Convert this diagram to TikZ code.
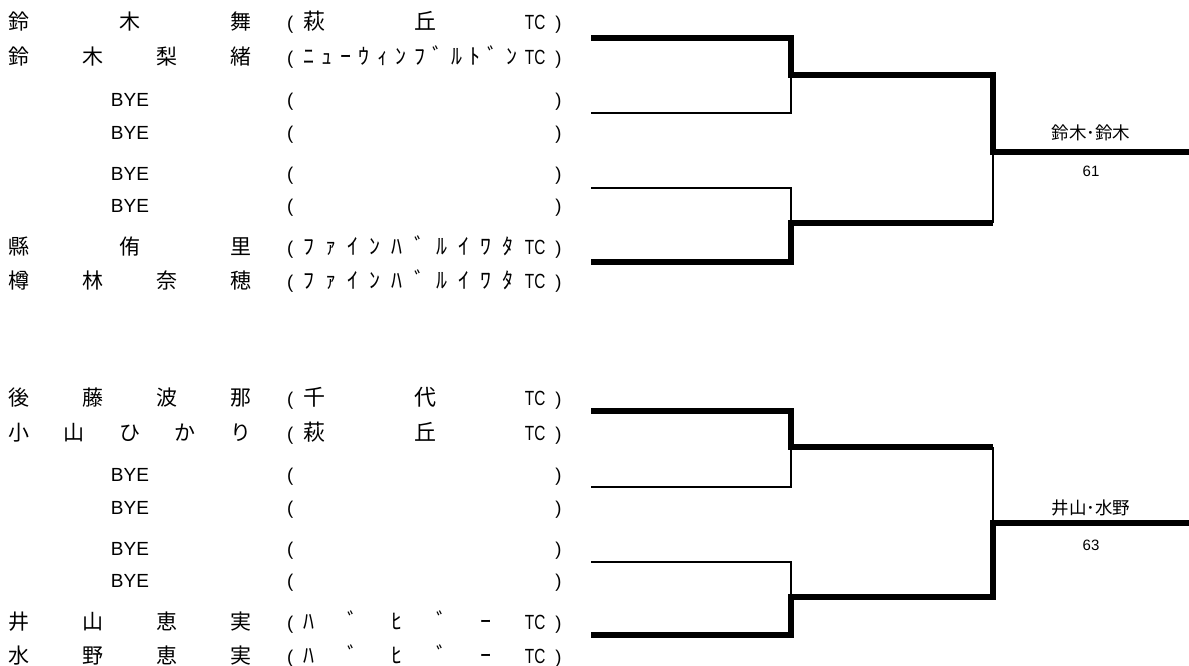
\documentclass[tikz,border=0pt]{standalone}
\usepackage{fontspec}
\usepackage{graphicx}
\setmainfont{Liberation Sans}
\newfontfamily\jp{Noto Sans CJK JP}
\usetikzlibrary{positioning}
\newcommand{\nm}[1]{\makebox[243pt][s]{#1}}
\newcommand{\tc}{{\rmfamily\fontsize{20.5}{20.5}\selectfont\scalebox{0.75}[1]{TC}}}
\newcommand{\club}[1]{(\kern10pt{\jp\fontsize{22}{22}\selectfont\makebox[242pt][s]{#1}}\kern10pt)}

\begin{document}
\begin{tikzpicture}
[x=1pt,y=-1pt,
player/.style={anchor=base west,inner sep=0pt,font=\jp\fontsize{21}{21}\selectfont},
bye/.style={anchor=base,inner sep=0pt,font=\fontsize{19}{19}\selectfont},
club/.style={anchor=base west,inner sep=0pt,font=\fontsize{18.5}{18.5}\selectfont},
pair/.style={anchor=base,inner sep=0pt,font=\jp\fontsize{17.5}{17.5}\selectfont},
score/.style={anchor=base,inner sep=0pt,font=\fontsize{15}{15}\selectfont},
win/.style={line width=5.5pt},
lose/.style={line width=2.6pt}]
\useasboundingbox (0,0) rectangle (1189,666);
% upper draw
\node at (8,30) [player] (p1) {\nm{鈴\hfill 木\hfill 舞}};
\node at (287,30) [club] (c1) {\club{萩\hfill 丘\hfill\tc}};
\node at (8,65) [player] (p2) {\nm{鈴\hfill 木\hfill 梨\hfill 緒}};
\node at (287,65) [club] (c2) {\club{ﾆ\hfill ｭ\hfill ｰ\hfill ｳ\hfill ｨ\hfill ﾝ\hfill ﾌ\hfill ﾞ\hfill ﾙ\hfill ﾄ\hfill ﾞ\hfill ﾝ\hfill\tc}};
\node at (130,106.5) [bye] (p3) {BYE};
\node at (287,106.5) [club] (c3) {\club{\hfill}};
\node at (130,139.5) [bye] (p4) {BYE};
\node at (287,139.5) [club] (c4) {\club{\hfill}};
\node at (130,180.5) [bye] (p5) {BYE};
\node at (287,180.5) [club] (c5) {\club{\hfill}};
\node at (130,212.5) [bye] (p6) {BYE};
\node at (287,212.5) [club] (c6) {\club{\hfill}};
\node at (8,254) [player] (p7) {\nm{縣\hfill 侑\hfill 里}};
\node at (287,254) [club] (c7) {\club{ﾌ\hfill ｧ\hfill ｲ\hfill ﾝ\hfill ﾊ\hfill ﾞ\hfill ﾙ\hfill ｲ\hfill ﾜ\hfill ﾀ\hfill\tc}};
\node at (8,288) [player] (p8) {\nm{樽\hfill 林\hfill 奈\hfill 穂}};
\node at (287,288) [club] (c8) {\club{ﾌ\hfill ｧ\hfill ｲ\hfill ﾝ\hfill ﾊ\hfill ﾞ\hfill ﾙ\hfill ｲ\hfill ﾜ\hfill ﾀ\hfill\tc}};
\coordinate (a1) at (591,38);
\coordinate (a2) at (591,113);
\coordinate (a3) at (591,188);
\coordinate (a4) at (591,262);
\coordinate (b1) at (791,75);
\coordinate (b2) at (791,223);
\coordinate (f1) at (993,152);
\coordinate (e1) at (1189,152);
\draw [win] (a1) -| (b1) -- (b1-|f1) -- (f1) -- (e1);
\draw [lose] (a2) -| (b1);
\draw [lose] (a3) -| (b2);
\draw [win] (a4) -| (b2) -- (b2-|f1);
\draw [lose] (b2-|f1) -- (f1);
\node at (1091,140) [pair] (w1) {鈴木･鈴木};
\node at (1091,176) [score] (s1) {61};
% lower draw
\node at (8,405) [player] (p9) {\nm{後\hfill 藤\hfill 波\hfill 那}};
\node at (287,405) [club] (c9) {\club{千\hfill 代\hfill\tc}};
\node at (8,440) [player] (p10) {\nm{小\hfill 山\hfill ひ\hfill か\hfill り}};
\node at (287,440) [club] (c10) {\club{萩\hfill 丘\hfill\tc}};
\node at (130,481.5) [bye] (p11) {BYE};
\node at (287,481.5) [club] (c11) {\club{\hfill}};
\node at (130,514.5) [bye] (p12) {BYE};
\node at (287,514.5) [club] (c12) {\club{\hfill}};
\node at (130,555.5) [bye] (p13) {BYE};
\node at (287,555.5) [club] (c13) {\club{\hfill}};
\node at (130,587.5) [bye] (p14) {BYE};
\node at (287,587.5) [club] (c14) {\club{\hfill}};
\node at (8,629) [player] (p15) {\nm{井\hfill 山\hfill 恵\hfill 実}};
\node at (287,629) [club] (c15) {\club{ﾊ\hfill ﾞ\hfill ﾋ\hfill ﾞ\hfill ｰ\hfill\tc}};
\node at (8,663) [player] (p16) {\nm{水\hfill 野\hfill 恵\hfill 実}};
\node at (287,663) [club] (c16) {\club{ﾊ\hfill ﾞ\hfill ﾋ\hfill ﾞ\hfill ｰ\hfill\tc}};
\coordinate (a5) at (591,411);
\coordinate (a6) at (591,487);
\coordinate (a7) at (591,562);
\coordinate (a8) at (591,635);
\coordinate (b3) at (791,447);
\coordinate (b4) at (791,597);
\coordinate (f2) at (993,523);
\coordinate (e2) at (1189,523);
\draw [win] (a5) -| (b3) -- (b3-|f2);
\draw [lose] (b3-|f2) -- (f2);
\draw [lose] (a6) -| (b3);
\draw [lose] (a7) -| (b4);
\draw [win] (a8) -| (b4) -- (b4-|f2) -- (f2) -- (e2);
\node at (1091,514) [pair] (w2) {井山･水野};
\node at (1091,550) [score] (s2) {63};
\end{tikzpicture}
\end{document}
